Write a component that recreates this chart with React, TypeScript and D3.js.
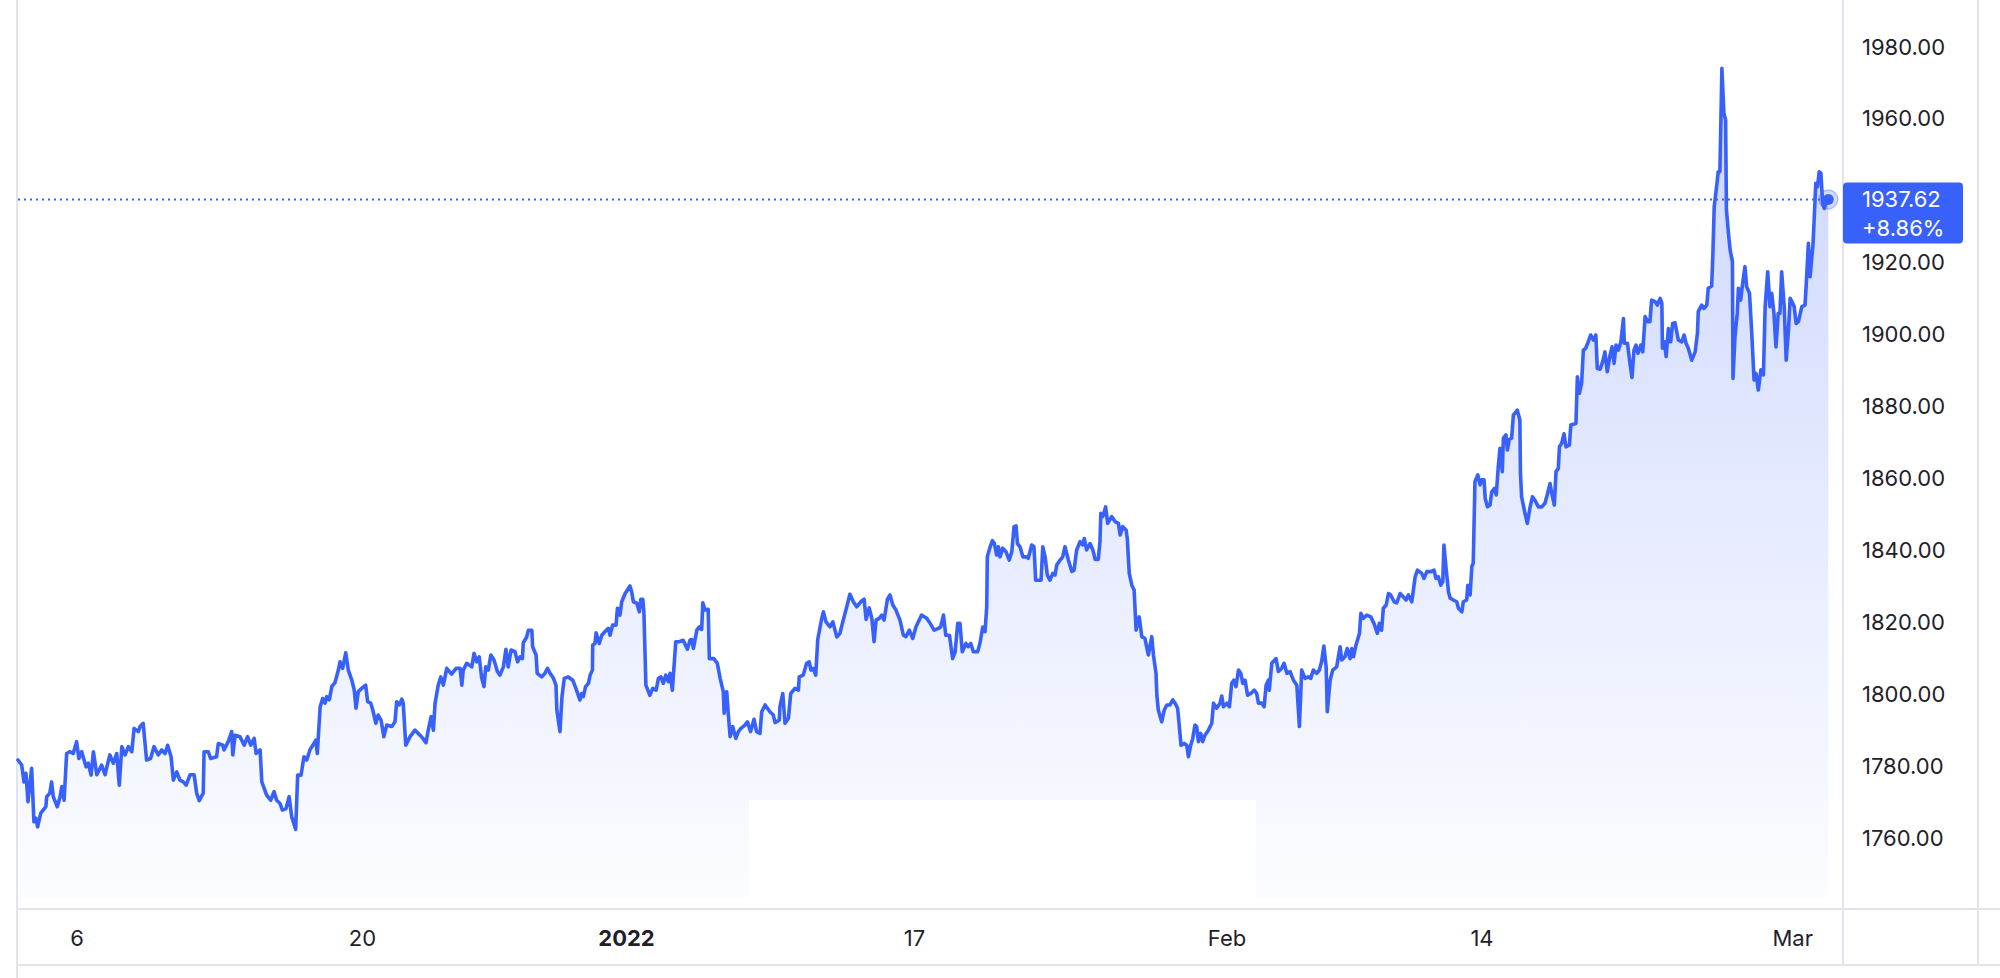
import React, { useEffect, useRef } from 'react';
import * as d3 from 'd3';

// x: trading days since the first sample, y: gold price (USD)
const days = [
  0.00, 0.13, 0.21, 0.28, 0.35, 0.48, 0.56, 0.63, 0.69, 0.80,
  0.98, 1.01, 1.12, 1.18, 1.24, 1.38, 1.48, 1.54, 1.62, 1.71,
  1.83, 1.94, 2.06, 2.14, 2.24, 2.39, 2.47, 2.57, 2.65, 2.77,
  2.94, 3.06, 3.14, 3.23, 3.35, 3.47, 3.56, 3.65, 3.76, 3.88,
  4.00, 4.08, 4.23, 4.29, 4.40, 4.52, 4.66, 4.78, 4.93, 5.05,
  5.17, 5.26, 5.38, 5.46, 5.58, 5.69, 5.81, 5.91, 6.05, 6.19,
  6.28, 6.37, 6.51, 6.54, 6.69, 6.77, 6.98, 7.04, 7.20, 7.24,
  7.39, 7.51, 7.55, 7.63, 7.80, 7.95, 8.07, 8.18, 8.30, 8.37,
  8.51, 8.57, 8.74, 8.88, 9.00, 9.09, 9.21, 9.29, 9.42, 9.53,
  9.62, 9.76, 9.83, 9.95, 10.05, 10.15, 10.26, 10.40, 10.47, 10.52,
  10.62, 10.71, 10.79, 10.85, 10.94, 11.03, 11.14, 11.26, 11.32, 11.41,
  11.52, 11.61, 11.73, 11.82, 11.88, 11.96, 12.08, 12.22, 12.29, 12.40,
  12.47, 12.58, 12.66, 12.76, 12.86, 12.96, 13.14, 13.25, 13.31, 13.40,
  13.49, 13.54, 13.63, 13.78, 13.95, 14.13, 14.23, 14.34, 14.42, 14.52,
  14.60, 14.66, 14.77, 14.86, 14.95, 15.07, 15.24, 15.40,
  15.54, 15.60, 15.65, 15.77, 15.95, 16.03, 16.12, 16.21, 16.30, 16.38,
  16.44, 16.53, 16.62, 16.73, 16.85, 16.94, 17.06, 17.15, 17.23, 17.33,
  17.47, 17.56, 17.65, 17.73, 17.76, 17.88, 17.94, 18.06, 18.09, 18.21,
  18.25, 18.41, 18.52, 18.61, 18.70, 18.82, 18.91, 18.94, 19.05, 19.12,
  19.20, 19.34, 19.50, 19.61, 19.75, 19.81, 19.87, 19.95, 20.05, 20.11,
  20.19, 20.20, 20.28, 20.32, 20.43, 20.52, 20.63, 20.75, 20.81, 20.90,
  21.02, 21.07, 21.16, 21.22, 21.34, 21.42, 21.51, 21.57, 21.63, 21.75,
  21.84, 21.89, 21.96, 22.00, 22.07, 22.21, 22.31, 22.43, 22.51, 22.60,
  22.68, 22.77, 22.86, 22.92, 23.00, 23.12, 23.24, 23.38, 23.53, 23.62,
  23.68, 23.74, 23.86, 23.95, 24.03, 24.07, 24.15, 24.26, 24.30, 24.46,
  24.58, 24.68, 24.79, 24.82, 24.91, 24.97, 25.03, 25.12, 25.23, 25.32,
  25.41, 25.55, 25.64, 25.75, 25.87, 25.96, 26.08, 26.14, 26.26, 26.43,
  26.55, 26.61, 26.76, 26.78, 26.88, 26.96, 27.08, 27.16, 27.31, 27.43,
  27.46, 27.60, 27.72, 27.81, 27.87, 27.95, 28.04, 28.11, 28.25, 28.31,
  28.40, 28.54, 28.64, 28.78, 28.89, 28.99, 29.13, 29.24, 29.36, 29.48,
  29.62, 29.74, 29.81, 29.92, 30.01, 30.09, 30.16, 30.27, 30.36, 30.44,
  30.56, 30.65, 30.75, 30.86,
  31.00, 31.12, 31.21, 31.33, 31.45, 31.56, 31.76, 31.94, 32.06, 32.20,
  32.35, 32.43, 32.53, 32.61, 32.74, 32.85, 32.94, 33.03, 33.11, 33.19,
  33.32, 33.40, 33.49, 33.58, 33.73, 33.81, 33.91, 33.99, 34.05, 34.07,
  34.17, 34.25, 34.32, 34.40, 34.46, 34.52, 34.61, 34.73, 34.84, 34.93,
  35.01, 35.08, 35.13, 35.22, 35.32, 35.43, 35.51, 35.63, 35.71, 35.77,
  35.86, 35.96, 36.02, 36.10, 36.18, 36.27, 36.37, 36.45, 36.51, 36.63,
  36.72, 36.80, 36.92, 37.04, 37.12, 37.21, 37.33, 37.42, 37.48, 37.56,
  37.68, 37.78, 37.86, 37.97, 38.03, 38.06, 38.13, 38.23, 38.30, 38.44,
  38.56, 38.68, 38.74, 38.83, 38.95, 38.99, 39.06, 39.15, 39.23, 39.30,
  39.41, 39.50, 39.61, 39.73, 39.85, 39.91, 40.00, 40.03, 40.08, 40.20,
  40.29, 40.38, 40.49, 40.59, 40.67, 40.76, 40.88, 40.99, 41.08, 41.14,
  41.22, 41.29, 41.37, 41.43, 41.49, 41.57, 41.64, 41.72, 41.84, 41.96,
  42.02, 42.13, 42.25, 42.31, 42.37, 42.49, 42.58, 42.66, 42.74, 42.81,
  42.90, 42.98, 43.05, 43.13, 43.22, 43.33, 43.45, 43.54, 43.60, 43.72,
  43.80, 43.87, 43.95, 43.98, 44.07, 44.22, 44.30, 44.42, 44.50, 44.60,
  44.71, 44.83, 44.95, 45.04, 45.12, 45.24, 45.35, 45.44, 45.53, 45.65,
  45.74, 45.82, 45.90, 45.98, 46.02, 46.12, 46.21, 46.35,
  46.47, 46.53, 46.64, 46.72, 46.82, 46.88, 46.94, 47.03, 47.15, 47.20,
  47.29, 47.41, 47.55, 47.66, 47.78, 47.85, 47.93, 47.99, 48.09, 48.17,
  48.25, 48.37, 48.46, 48.58, 48.69, 48.79, 48.87, 48.99, 49.11, 49.19,
  49.34, 49.42, 49.52, 49.67, 49.77, 49.84, 49.92, 50.01, 50.08, 50.12,
  50.19, 50.28, 50.34, 50.45, 50.57, 50.63, 50.75, 50.80, 50.92, 50.96,
  51.04, 51.10, 51.15, 51.21, 51.31, 51.39, 51.45, 51.53, 51.57, 51.65,
  51.74, 51.80, 51.89, 51.96, 52.03, 52.09, 52.17, 52.21, 52.30, 52.35,
  52.42, 52.50, 52.56, 52.70, 52.79, 52.81, 52.85, 52.97, 53.05, 53.15,
  53.23, 53.32, 53.44, 53.56, 53.67, 53.75, 53.85, 53.91, 54.00, 54.06,
  54.14, 54.18, 54.26, 54.34, 54.41, 54.53, 54.58, 54.67, 54.76, 54.81,
  54.88, 54.96, 55.02, 55.10, 55.19, 55.28, 55.37, 55.46, 55.51,
  55.61, 55.70, 55.78, 55.86, 55.96, 56.03, 56.10, 56.17, 56.25, 56.34,
  56.43, 56.46, 56.57, 56.66, 56.73, 56.80, 56.87, 56.94, 57.04, 57.11,
  57.19, 57.28, 57.36, 57.42, 57.54, 57.62, 57.72, 57.78, 57.80, 57.87,
  57.93, 58.01, 58.09, 58.16, 58.24, 58.36, 58.48, 58.56, 58.63, 58.71,
  58.83, 58.95, 59.03, 59.06, 59.18, 59.26, 59.36, 59.41, 59.53, 59.57,
  59.62, 59.71, 59.76, 59.82, 59.89, 59.96, 60.02, 60.05, 60.12, 60.18,
  60.26, 60.28, 60.35, 60.43, 60.47, 60.55, 60.62, 60.70, 60.76, 60.86,
  60.94, 61.02, 61.09, 61.17, 61.26, 61.35, 61.41, 61.50, 61.58, 61.64,
  61.72, 61.79, 61.87, 61.93, 61.99, 62.08, 62.15, 62.23, 62.29, 62.38,
  62.43, 62.50, 62.58, 62.70, 62.81, 62.85, 62.93, 62.99, 63.09, 63.13,
  63.19, 63.25, 63.31, 63.37, 63.43, 63.49, 63.57, 63.63,
];

const prices = [
  1781.7, 1780.3, 1775.6, 1778.0, 1770.1, 1779.4, 1764.5, 1765.5, 1763.1, 1766.9,
  1768.7, 1771.5, 1772.5, 1775.6, 1771.5, 1768.7, 1771.5, 1774.3, 1770.5, 1783.5,
  1784.0, 1783.5, 1786.8, 1782.1, 1784.0, 1779.8, 1780.8, 1777.5, 1784.0, 1777.6,
  1780.3, 1777.6, 1780.3, 1783.1, 1780.8, 1783.5, 1774.7, 1785.4, 1783.1, 1785.4,
  1784.0, 1790.5, 1789.6, 1791.0, 1791.9, 1781.7, 1782.1, 1785.4, 1783.1, 1784.5,
  1783.5, 1785.8, 1782.6, 1776.1, 1778.4, 1776.1, 1775.6, 1774.7, 1777.6, 1777.6,
  1772.5, 1770.4, 1772.5, 1784.0, 1784.0, 1782.1, 1782.6, 1786.3, 1785.8, 1784.5,
  1786.8, 1789.6, 1783.1, 1788.6, 1788.2, 1785.8, 1788.2, 1785.8, 1787.7, 1783.5,
  1784.5, 1775.6, 1771.9, 1770.5, 1772.9, 1770.5, 1769.6, 1767.8, 1768.2, 1771.5,
  1765.9, 1762.4, 1777.5, 1777.5, 1782.6, 1781.7, 1784.5, 1786.3, 1787.2, 1783.5,
  1796.5, 1798.8, 1797.5, 1799.3, 1798.4, 1802.1, 1803.2, 1806.7, 1809.0, 1807.2,
  1811.5, 1806.7, 1804.0, 1801.1, 1796.1, 1800.7, 1801.6, 1802.5, 1797.9, 1797.5,
  1795.6, 1791.9, 1794.2, 1792.8, 1788.2, 1791.4, 1791.0, 1792.3, 1797.9, 1797.0,
  1798.6, 1797.5, 1785.8, 1788.2, 1790.0, 1788.6, 1787.7, 1786.5, 1790.0, 1793.7,
  1790.0, 1797.5, 1802.5, 1804.8, 1802.5, 1807.2, 1805.6, 1807.2,
  1807.2, 1802.5, 1806.7, 1808.6, 1807.6, 1811.4, 1809.0, 1810.4, 1804.4, 1802.1,
  1807.6, 1806.7, 1810.9, 1809.5, 1806.3, 1805.3, 1807.6, 1812.5, 1807.6, 1812.3,
  1811.8, 1809.0, 1810.4, 1809.9, 1814.3, 1815.9, 1817.8, 1817.8, 1813.2, 1810.9,
  1805.8, 1804.8, 1805.8, 1807.2, 1805.8, 1804.4, 1802.5, 1795.6, 1789.6, 1799.3,
  1804.4, 1804.8, 1803.9, 1801.6, 1798.4, 1800.2, 1799.3, 1802.1, 1803.0, 1805.3,
  1806.7, 1813.7, 1814.1, 1817.1, 1814.1, 1816.4, 1817.4, 1818.3, 1816.4, 1819.2,
  1819.2, 1823.9, 1822.0, 1825.7, 1828.0, 1829.0, 1830.1, 1828.5, 1825.7, 1825.3,
  1822.9, 1826.4, 1826.4, 1822.9, 1802.5, 1799.7, 1801.6, 1801.1, 1804.4, 1804.8,
  1803.0, 1805.3, 1803.5, 1805.8, 1801.1, 1814.6, 1814.6, 1815.0, 1812.5, 1815.0,
  1815.2, 1812.7, 1817.8, 1818.7, 1818.0, 1825.4, 1823.4, 1823.6, 1809.9, 1809.9,
  1808.6, 1804.4, 1800.7, 1794.7, 1800.7, 1794.2, 1788.2, 1791.0, 1787.7, 1789.6,
  1790.5, 1791.4, 1792.3, 1789.6, 1793.0, 1789.6, 1789.1, 1795.1, 1797.0, 1795.1,
  1794.2, 1792.1, 1792.8, 1796.5, 1800.2, 1791.9, 1793.3, 1800.2, 1801.6, 1801.1,
  1804.8, 1805.3, 1808.6, 1809.0, 1806.7, 1807.2, 1805.3, 1815.2, 1821.1, 1822.9,
  1820.1, 1818.7, 1820.1, 1815.9, 1816.9, 1820.1, 1824.3, 1827.8, 1825.7, 1824.3,
  1825.7, 1826.4, 1820.8, 1824.0, 1821.1, 1814.6, 1820.6, 1821.1, 1822.0, 1820.6,
  1826.4, 1827.6, 1824.8, 1823.4,
  1820.6, 1816.4, 1816.0, 1817.8, 1815.5, 1818.7, 1822.0, 1821.1, 1819.7, 1817.8,
  1818.3, 1818.7, 1822.0, 1816.4, 1816.4, 1809.9, 1811.8, 1819.7, 1819.7, 1811.8,
  1814.1, 1813.2, 1814.1, 1811.8, 1811.8, 1814.1, 1818.7, 1817.4, 1824.3, 1838.2,
  1841.0, 1842.7, 1841.9, 1838.7, 1841.0, 1838.2, 1840.6, 1839.6, 1837.3, 1839.6,
  1846.6, 1846.8, 1841.9, 1841.0, 1838.2, 1838.2, 1837.8, 1841.5, 1841.0, 1831.7,
  1831.7, 1831.7, 1841.0, 1838.2, 1833.1, 1831.7, 1833.6, 1833.1, 1835.9, 1837.3,
  1838.2, 1841.0, 1837.3, 1834.1, 1834.5, 1840.1, 1842.4, 1841.5, 1843.3, 1840.1,
  1841.9, 1840.1, 1837.5, 1837.5, 1842.4, 1850.3, 1849.4, 1852.1, 1847.5, 1849.4,
  1848.0, 1847.5, 1844.3, 1846.6, 1845.6, 1843.3, 1833.6, 1830.3, 1829.0, 1817.8,
  1821.5, 1816.0, 1815.5, 1810.9, 1816.0, 1810.9, 1805.8, 1799.7, 1795.6, 1792.3,
  1795.6, 1797.0, 1797.0, 1798.4, 1797.5, 1796.1, 1785.8, 1786.3, 1785.8, 1782.6,
  1785.8, 1787.7, 1791.4, 1791.0, 1786.8, 1789.1, 1786.8, 1788.6, 1790.0, 1791.9,
  1797.5, 1796.1, 1797.5, 1799.5, 1796.5, 1797.5, 1796.5, 1803.0, 1803.9, 1802.1,
  1806.7, 1805.8, 1803.0, 1803.9, 1799.7, 1800.2, 1801.1, 1800.2, 1797.5, 1797.5,
  1796.5, 1802.5, 1803.9, 1801.1, 1808.6, 1809.9, 1806.3, 1807.2, 1808.6, 1805.8,
  1806.3, 1803.9, 1802.5, 1791.0, 1806.7, 1804.4, 1804.8, 1804.4, 1806.7, 1805.8,
  1806.7, 1809.0, 1813.4, 1807.6, 1795.1, 1803.9, 1806.7, 1807.6,
  1813.2, 1809.5, 1810.4, 1812.7, 1809.9, 1812.7, 1810.4, 1813.7, 1816.9, 1822.5,
  1821.1, 1822.0, 1821.5, 1819.7, 1816.9, 1819.7, 1817.8, 1823.9, 1824.8, 1828.0,
  1827.6, 1825.7, 1825.4, 1828.0, 1827.1, 1826.2, 1827.6, 1825.7, 1832.7, 1834.5,
  1833.6, 1832.2, 1834.1, 1834.1, 1834.5, 1832.2, 1832.7, 1830.3, 1831.3, 1841.5,
  1835.5, 1828.5, 1826.7, 1826.2, 1825.7, 1823.9, 1822.9, 1825.7, 1826.2, 1830.3,
  1827.6, 1835.5, 1836.4, 1859.1, 1861.0, 1858.2, 1859.6, 1859.6, 1854.5, 1852.1,
  1852.6, 1856.3, 1857.2, 1855.4, 1863.3, 1868.4, 1861.9, 1871.2, 1872.1, 1867.9,
  1870.9, 1871.2, 1877.6, 1879.0, 1876.2, 1861.4, 1854.9, 1850.3, 1847.5, 1852.1,
  1854.9, 1853.9, 1852.1, 1852.1, 1853.1, 1855.4, 1858.6, 1855.9, 1852.6, 1861.9,
  1862.8, 1868.8, 1869.8, 1872.4, 1868.8, 1869.3, 1874.9, 1875.1, 1875.3, 1888.3,
  1883.7, 1886.5, 1895.7, 1896.2, 1898.0, 1899.9, 1898.5, 1899.9, 1890.6,
  1890.4, 1892.5, 1895.2, 1889.7, 1894.3, 1896.6, 1892.0, 1897.1, 1895.7, 1898.0,
  1904.5, 1897.6, 1897.6, 1892.0, 1888.1, 1895.7, 1897.1, 1894.8, 1897.1, 1895.2,
  1905.0, 1903.6, 1903.6, 1909.6, 1909.2, 1908.2, 1910.1, 1908.7, 1896.2, 1898.0,
  1893.9, 1901.7, 1898.0, 1903.1, 1903.3, 1898.5, 1898.0, 1899.9, 1897.6, 1896.2,
  1892.9, 1895.2, 1900.4, 1906.4, 1908.2, 1907.3, 1908.2, 1912.9, 1913.5, 1921.7,
  1935.6, 1941.6, 1945.3, 1945.3, 1974.1, 1961.6, 1959.7, 1934.7, 1928.2, 1923.5,
  1920.3, 1887.8, 1899.4, 1905.9, 1912.9, 1909.6, 1914.3, 1918.9, 1913.3, 1911.5,
  1900.4, 1887.4, 1889.2, 1884.6, 1890.2, 1888.8, 1907.8, 1917.5, 1907.8, 1911.5,
  1905.9, 1896.6, 1905.9, 1905.9, 1917.5, 1907.8, 1892.9, 1901.3, 1910.1, 1908.7,
  1907.8, 1903.1, 1903.6, 1907.8, 1908.2, 1913.3, 1925.4, 1916.1, 1924.9, 1931.4,
  1942.1, 1941.1, 1945.3, 1944.9, 1936.5, 1935.1, 1937.4, 1937.62,
];

const xTickDays = [2.06, 12.09, 21.37, 31.49, 42.48, 51.44, 62.36];
const xTickLabels = ['6', '20', '2022', '17', 'Feb', '14', 'Mar'];
// 1940.00 sits under the last-price badge, so it is not drawn
const yTickValues = [1760, 1780, 1800, 1820, 1840, 1860, 1880, 1900, 1920, 1960, 1980];

const lastPrice = 1937.62;
const lastChange = '+8.86%';

const WIDTH = 2000;
const HEIGHT = 978;
const BLUE = '#3861fb';
const RULE = '#e1e4ea';
const TEXT = '#1f2129';
const FONT = 'Inter, "Noto Sans", "DejaVu Sans", sans-serif';

const App: React.FC = () => {
  const svgRef = useRef<SVGSVGElement>(null);

  useEffect(() => {
    if (!svgRef.current) return;

    const svg = d3.select(svgRef.current);
    svg.selectAll('*').remove();

    const frame = { left: 17, plotRight: 1843, edge: 1978, fillBottom: 897, axisTop: 909, axisBottom: 965 };
    const n = Math.min(days.length, prices.length);
    const data = d3.range(n).map(i => ({ t: days[i], v: prices[i] }));

    // Scales
    const x = d3.scaleLinear()
      .domain([0, days[n - 1]])
      .range([18, 1828.3]);

    const y = d3.scaleLinear()
      .domain([1760, 1980])
      .range([838, 47]);

    // Gradient under the line
    const defs = svg.append('defs');
    const grad = defs.append('linearGradient')
      .attr('id', 'goldFill')
      .attr('gradientUnits', 'userSpaceOnUse')
      .attr('x1', 0).attr('x2', 0)
      .attr('y1', y(d3.max(prices) || 1980))
      .attr('y2', frame.fillBottom);
    grad.append('stop').attr('offset', '0%').attr('stop-color', BLUE).attr('stop-opacity', 0.26);
    grad.append('stop').attr('offset', '100%').attr('stop-color', BLUE).attr('stop-opacity', 0.015);

    svg.append('rect')
      .attr('width', WIDTH)
      .attr('height', HEIGHT)
      .attr('fill', '#ffffff');

    const area = d3.area<{ t: number; v: number }>()
      .x(d => x(d.t))
      .y0(frame.fillBottom)
      .y1(d => y(d.v));

    svg.append('path')
      .datum(data)
      .attr('d', area)
      .attr('fill', 'url(#goldFill)');

    // white block over the lower middle of the fill
    svg.append('rect')
      .attr('x', 749)
      .attr('y', 800)
      .attr('width', 507)
      .attr('height', frame.fillBottom - 800)
      .attr('fill', '#ffffff');

    // Frame rules
    const rules = svg.append('g').attr('stroke', RULE).attr('stroke-width', 2);
    rules.append('line').attr('x1', frame.left).attr('x2', frame.left).attr('y1', 0).attr('y2', HEIGHT);
    rules.append('line').attr('x1', frame.plotRight).attr('x2', frame.plotRight).attr('y1', 0).attr('y2', frame.axisBottom);
    rules.append('line').attr('x1', frame.edge).attr('x2', frame.edge).attr('y1', 0).attr('y2', frame.axisBottom);
    rules.append('line').attr('x1', frame.left).attr('x2', WIDTH).attr('y1', frame.axisTop).attr('y2', frame.axisTop);
    rules.append('line').attr('x1', frame.left).attr('x2', WIDTH).attr('y1', frame.axisBottom).attr('y2', frame.axisBottom);

    // Last price dotted guide
    svg.append('line')
      .attr('x1', x(0))
      .attr('x2', x(days[n - 1]))
      .attr('y1', y(lastPrice))
      .attr('y2', y(lastPrice))
      .attr('stroke', BLUE)
      .attr('stroke-width', 2)
      .attr('stroke-dasharray', '2,4');

    // Price line
    const line = d3.line<{ t: number; v: number }>()
      .x(d => x(d.t))
      .y(d => y(d.v));

    svg.append('path')
      .datum(data)
      .attr('d', line)
      .attr('fill', 'none')
      .attr('stroke', BLUE)
      .attr('stroke-width', 3.6)
      .attr('stroke-linejoin', 'round')
      .attr('stroke-linecap', 'round');

    // Axes
    svg.append('g')
      .attr('transform', `translate(${frame.plotRight},0)`)
      .call(d3.axisRight(y).tickValues(yTickValues).tickSize(0).tickPadding(19).tickFormat(d => (+d).toFixed(2)))
      .call(g => g.select('.domain').remove())
      .call(g => g.selectAll('.tick text')
        .attr('fill', TEXT)
        .style('font-family', FONT)
        .style('font-size', '22px'));

    svg.append('g')
      .attr('transform', `translate(0,${frame.axisTop})`)
      .call(d3.axisBottom(x).tickValues(xTickDays).tickSize(0).tickPadding(21)
        .tickFormat((_, i) => xTickLabels[i]))
      .call(g => g.select('.domain').remove())
      .call(g => g.selectAll('.tick text')
        .attr('fill', TEXT)
        .style('font-family', FONT)
        .style('font-size', '22px')
        .style('font-weight', (_, i) => xTickLabels[i] === '2022' ? 700 : 400));

    // Last price badge
    const py = y(lastPrice);
    const badge = svg.append('g');
    badge.append('rect')
      .attr('x', frame.plotRight)
      .attr('y', py - 17)
      .attr('width', 120)
      .attr('height', 61)
      .attr('rx', 4)
      .attr('fill', BLUE);
    badge.append('text')
      .attr('x', frame.plotRight + 19)
      .attr('y', py)
      .attr('dy', '0.35em')
      .attr('fill', '#ffffff')
      .style('font-family', FONT)
      .style('font-size', '22px')
      .text(lastPrice.toFixed(2));
    badge.append('text')
      .attr('x', frame.plotRight + 19)
      .attr('y', py + 29)
      .attr('dy', '0.35em')
      .attr('fill', '#ffffff')
      .style('font-family', FONT)
      .style('font-size', '22px')
      .text(lastChange);

    // End point marker
    const ex = x(days[n - 1]);
    svg.append('circle')
      .attr('cx', ex)
      .attr('cy', py)
      .attr('r', 9.5)
      .attr('fill', BLUE)
      .attr('fill-opacity', 0.22)
      .attr('stroke', BLUE)
      .attr('stroke-opacity', 0.35)
      .attr('stroke-width', 1.5);
    svg.append('circle')
      .attr('cx', ex)
      .attr('cy', py)
      .attr('r', 5.5)
      .attr('fill', BLUE);
  }, []);

  return (
    <svg
      ref={svgRef}
      width={WIDTH}
      height={HEIGHT}
      style={{ position: 'absolute', left: 0, top: 0, display: 'block' }}
    />
  );
};

export default App;
